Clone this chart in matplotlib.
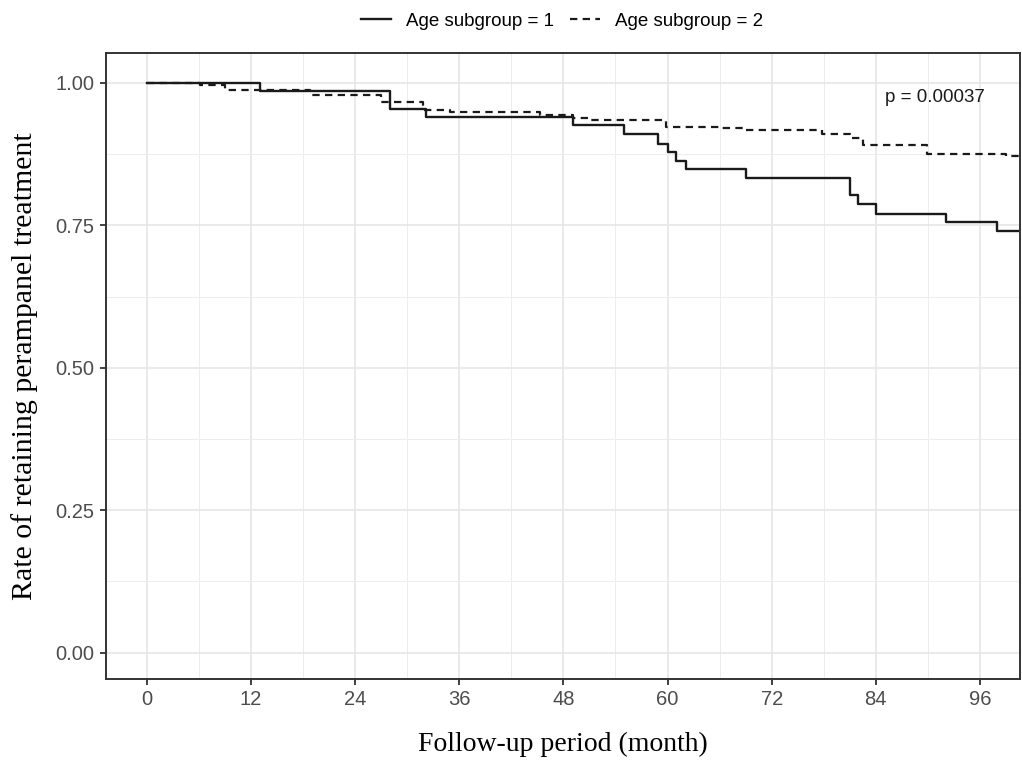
import numpy as np
import matplotlib
matplotlib.use('Agg')
import matplotlib.pyplot as plt
from matplotlib.ticker import MultipleLocator

# Kaplan-Meier style retention curves
months_1 = [0, 13.0, 28.0, 32.2, 49.1, 55.0, 58.9, 60.0, 61.0, 62.1, 69.0,
            81.0, 82.0, 84.0, 92.1, 98.0]
surv_1 = [1.000, 0.986, 0.955, 0.940, 0.926, 0.911, 0.893, 0.878, 0.863, 0.848,
          0.833, 0.803, 0.788, 0.769, 0.755, 0.740]

months_2 = [0, 6.1, 9.0, 18.8, 27.0, 31.8, 35.0, 45.3, 49.1, 50.8, 59.8, 66.0,
            68.9, 77.8, 81.0, 82.5, 89.9, 99.0]
surv_2 = [1.000, 0.997, 0.988, 0.979, 0.967, 0.952, 0.949, 0.943, 0.939, 0.935,
          0.923, 0.920, 0.917, 0.910, 0.904, 0.891, 0.876, 0.872]

last_followup = 101
group_labels = ['Age subgroup = 1', 'Age subgroup = 2']
x_ticks = [0, 12, 24, 36, 48, 60, 72, 84, 96]
y_ticks = [0.00, 0.25, 0.50, 0.75, 1.00]
p_text = 'p = 0.00037'

sans = ['Liberation Sans', 'DejaVu Sans']
serif = ['Liberation Serif', 'DejaVu Serif']
dark = '#333333'

fig = plt.figure(figsize=(10.22, 7.6), dpi=100)
ax = fig.add_axes([0.1034, 0.1062, 0.8946, 0.8237])

ax.step(months_1 + [last_followup], surv_1 + [surv_1[-1]], where='post',
        color='#1a1a1a', lw=1.7, label=group_labels[0])
ax.step(months_2 + [last_followup], surv_2 + [surv_2[-1]], where='post',
        color='#1a1a1a', lw=1.6, linestyle=(0, (3.3, 2.4)), label=group_labels[1])

ax.set_xlim(-4.72, 100.6)
ax.set_ylim(-0.047, 1.052)
ax.set_xticks(x_ticks)
ax.set_yticks(y_ticks)
ax.set_yticklabels([f'{v:.2f}' for v in y_ticks])
ax.xaxis.set_minor_locator(MultipleLocator(6))
ax.yaxis.set_minor_locator(MultipleLocator(0.125))

ax.grid(which='major', color='#E6E6E6', lw=1.2)
ax.grid(which='minor', color='#EDEDED', lw=0.7)
ax.set_axisbelow(True)
ax.tick_params(which='minor', length=0)
ax.tick_params(which='major', length=4, width=1.3, color=dark, pad=4,
               labelsize=14.5, labelcolor='#4D4D4D')
for lab in ax.get_xticklabels() + ax.get_yticklabels():
    lab.set_family(sans)
for sp in ax.spines.values():
    sp.set_color(dark)
    sp.set_linewidth(1.4)

ax.set_xlabel('Follow-up period (month)', family=serif, fontsize=20, labelpad=16)
ax.set_ylabel('Rate of retaining perampanel treatment', family=serif, fontsize=21.5,
              labelpad=13)

ax.text(85.0, 0.975, p_text, family=sans, fontsize=13.5, color='#1a1a1a',
        ha='left', va='center')

handles, labels = ax.get_legend_handles_labels()
fig.legend(handles, labels, loc='center', bbox_to_anchor=(0.55, 0.972), ncol=2,
           frameon=False, handlelength=1.6, handletextpad=0.8, columnspacing=0.9,
           prop={'family': sans, 'size': 13.5})

fig.savefig('out.png', dpi=100)
